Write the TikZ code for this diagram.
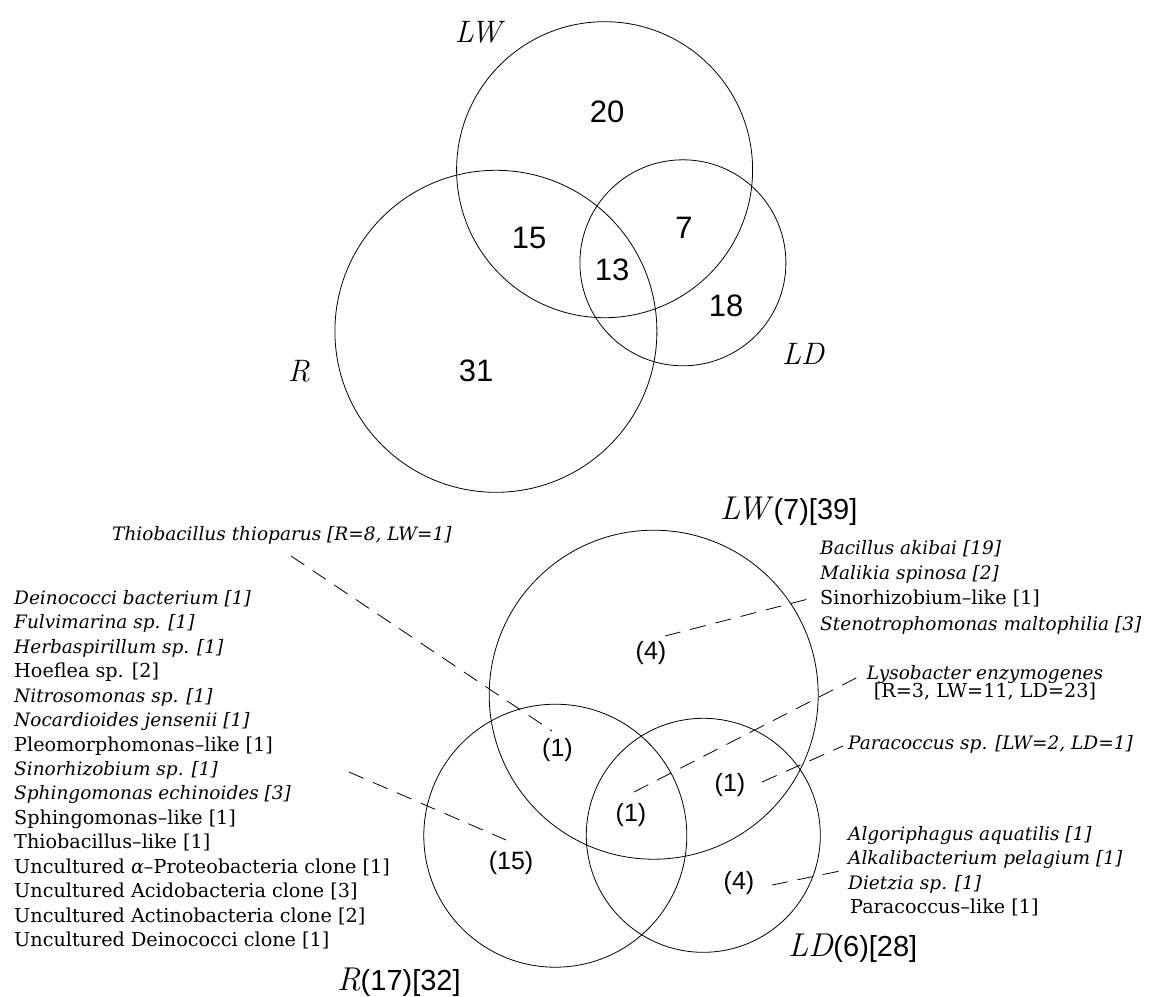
\documentclass[tikz,border=0pt]{standalone}
\usepackage{fontspec}
\newfontfamily\lserif{DejaVu Serif}
\newfontfamily\nsans{Liberation Sans}
\tikzset{
  venn/.style={draw, circle, inner sep=0pt, outer sep=0pt, line width=0.8pt},
  lead/.style={line width=0.8pt, dash pattern=on 16pt off 10pt},
  upl/.style={anchor=base west, inner sep=0pt, font=\lserif\fontsize{19.2}{23}\selectfont},
  itl/.style={anchor=base west, inner sep=0pt, font=\lserif\itshape\fontsize{18.5}{23}\selectfont},
  topnum/.style={inner sep=0pt, font=\nsans\fontsize{31}{36}\selectfont},
  regnum/.style={inner sep=0pt, font=\nsans\fontsize{25}{30}\selectfont},
  setlab/.style={inner sep=0pt, font=\itshape\fontsize{31}{36}\selectfont},
  biglab/.style={anchor=base west, inner sep=0pt, font=\fontsize{33}{38}\selectfont},
}
\newcommand\cnt[1]{{\nsans\fontsize{29}{34}\selectfont #1}}
\begin{document}
\begin{tikzpicture}[x=1pt, y=-1pt]
\useasboundingbox (0,0) rectangle (1150,996);
% ---------- top Venn ----------
\node[venn, minimum size=296pt] (tLW) at (604.6,169.7) {};
\node[venn, minimum size=322pt] (tR) at (495.9,331.3) {};
\node[venn, minimum size=206pt] (tLD) at (682.9,262.8) {};
\node[topnum] (n20) at (607,112) {20};
\node[topnum] (n15) at (529,238) {15};
\node[topnum] (n13) at (612,270) {13};
\node[topnum] (n7) at (684,228) {7};
\node[topnum] (n18) at (726,306) {18};
\node[topnum] (n31) at (476,371) {31};
\node[setlab] (labLW) at (478,32) {LW};
\node[setlab] (labR) at (299,371) {R};
\node[setlab] (labLD) at (803,354) {LD};
% ---------- bottom Venn ----------
\node[venn, minimum size=329pt] (bLW) at (653.7,694.7) {};
\node[venn, minimum size=263pt] (bR) at (555.3,835.7) {};
\node[venn, minimum size=234pt] (bLD) at (703.3,835.3) {};
\node[regnum] (rLW) at (651,653) {(4)};
\node[regnum] (rLWR) at (557.5,750) {(1)};
\node[regnum] (rAll) at (631,815) {(1)};
\node[regnum] (rLWLD) at (730,785) {(1)};
\node[regnum] (rR) at (511,863) {(15)};
\node[regnum] (rLD) at (739,883) {(4)};
\node[biglab] (bLWlab) at (720,519) {\textit{LW}\cnt{(7)[39]}};
\node[biglab] (bRlab) at (337,990) {\textit{R}\cnt{(17)[32]}};
\node[biglab] (bLDlab) at (788,956) {\textit{LD}\cnt{(6)[28]}};
% ---------- texts ----------
\node[itl] (thio) at (112,540) {Thiobacillus thioparus [R=8, LW=1]};
\node[itl] (l1) at (14,604) {Deinococci bacterium [1]};
\node[itl] (l2) at (14,628.5) {Fulvimarina sp. [1]};
\node[itl] (l3) at (14,653) {Herbaspirillum sp. [1]};
\node[upl] (l4) at (14,677.5) {Hoeflea sp. [2]};
\node[itl] (l5) at (14,702) {Nitrosomonas sp. [1]};
\node[itl] (l6) at (14,726.5) {Nocardioides jensenii [1]};
\node[upl] (l7) at (14,751) {Pleomorphomonas–like [1]};
\node[itl] (l8) at (14,775) {Sinorhizobium sp. [1]};
\node[itl] (l9) at (14,799.5) {Sphingomonas echinoides [3]};
\node[upl] (l10) at (14,824) {Sphingomonas–like [1]};
\node[upl] (l11) at (14,848.5) {Thiobacillus–like [1]};
\node[upl] (l12) at (14,873) {Uncultured \textit{α}–Proteobacteria clone [1]};
\node[upl] (l13) at (14,897.5) {Uncultured Acidobacteria clone [3]};
\node[upl] (l14) at (14,922) {Uncultured Actinobacteria clone [2]};
\node[upl] (l15) at (14,946) {Uncultured Deinococci clone [1]};
\node[itl] (a1) at (820,554) {Bacillus akibai [19]};
\node[itl] (a2) at (820,579) {Malikia spinosa [2]};
\node[upl] (a3) at (820,604.5) {Sinorhizobium–like [1]};
\node[itl] (a4) at (820,630) {Stenotrophomonas maltophilia [3]};
\node[itl, anchor=base] (lyso) at (985,679) {Lysobacter enzymogenes};
\node[upl, anchor=base] (lyso2) at (985,697) {[R=3, LW=11, LD=23]};
\node[itl] (para) at (848,749) {Paracoccus sp. [LW=2, LD=1]};
\node[itl] (d1) at (848,840) {Algoriphagus aquatilis [1]};
\node[itl] (d2) at (848,864.5) {Alkalibacterium pelagium [1]};
\node[itl] (d3) at (848,889) {Dietzia sp. [1]};
\node[upl] (d4) at (850,913.5) {Paracoccus–like [1]};
% ---------- leader lines ----------
\coordinate (c1a) at (291,556); \coordinate (c1b) at (552,731);
\coordinate (c2a) at (349,772); \coordinate (c2b) at (506,840);
\coordinate (c3a) at (665,636); \coordinate (c3b) at (812,598);
\coordinate (c4a) at (634,792); \coordinate (c4b) at (858,677);
\coordinate (c5a) at (762,782); \coordinate (c5b) at (843,746);
\coordinate (c6a) at (772,885); \coordinate (c6b) at (840,871);
\draw[lead] (c1a) -- (c1b);
\draw[lead] (c2a) -- (c2b);
\draw[lead] (c3a) -- (c3b);
\draw[lead] (c4a) -- (c4b);
\draw[lead] (c5a) -- (c5b);
\draw[lead] (c6a) -- (c6b);
\end{tikzpicture}
\end{document}
